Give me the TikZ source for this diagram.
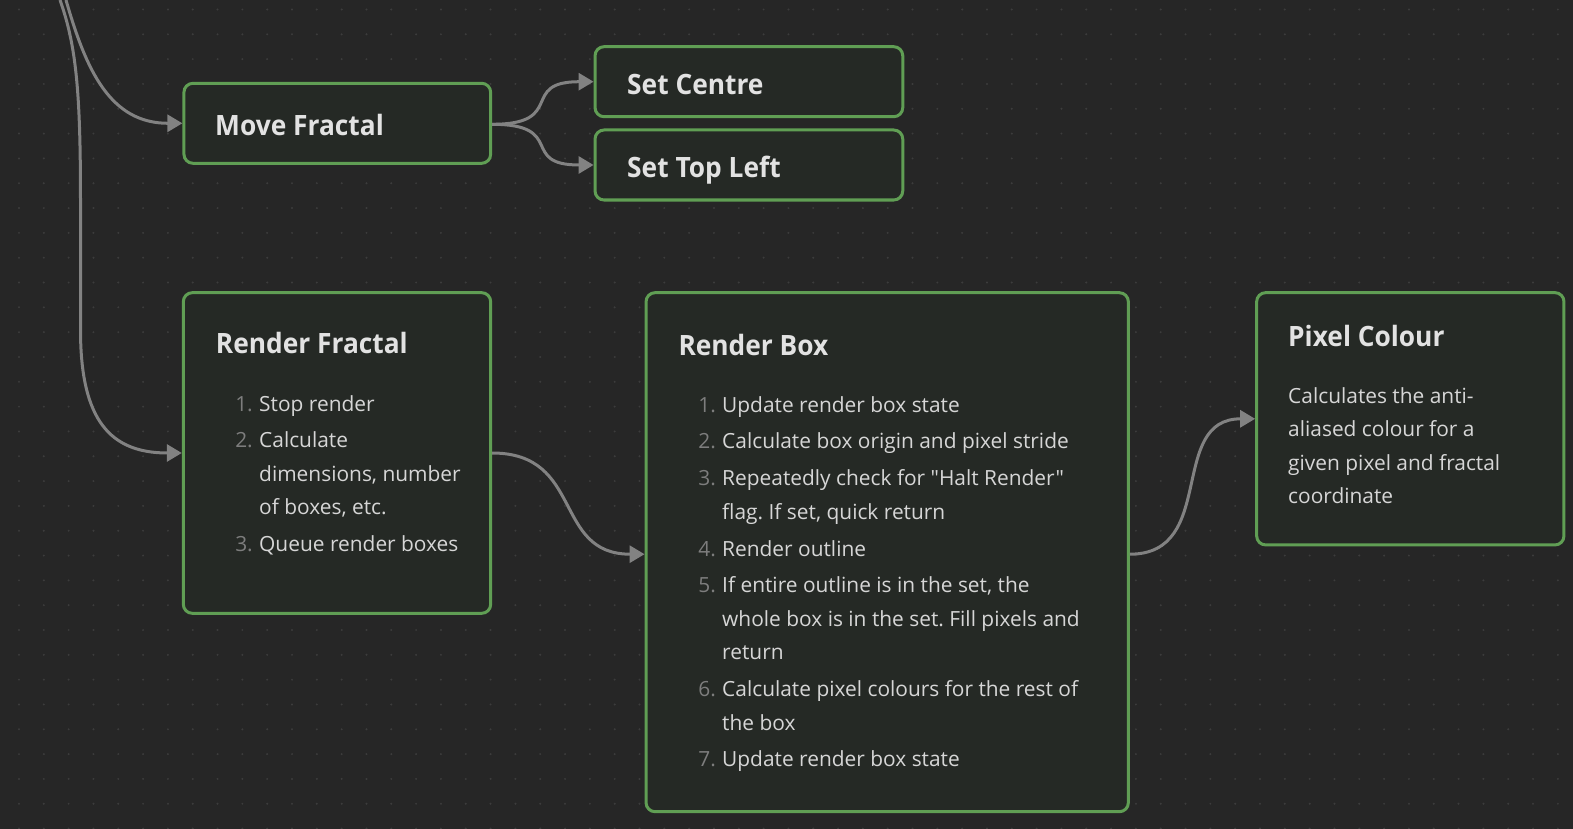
\documentclass[tikz,border=0pt]{standalone}
\usepackage{fontspec}
\setmainfont{Open Sans}
\newfontfamily\titlefont[FakeStretch=0.94]{Open Sans}
\newfontfamily\bodyfont{Open Sans}
\usetikzlibrary{arrows.meta}
\definecolor{bgcol}{RGB}{38,38,38}
\definecolor{dotcol}{RGB}{60,60,60}
\definecolor{cardfill}{RGB}{37,41,37}
\definecolor{cardborder}{RGB}{96,158,84}
\definecolor{conncol}{RGB}{130,130,130}
\definecolor{titlecol}{RGB}{226,226,226}
\definecolor{bodycol}{RGB}{214,214,214}
\definecolor{numcol}{RGB}{125,125,125}
\frenchspacing
\begin{document}
\begin{tikzpicture}[x=1pt,y=-1pt,
  card/.style={draw=cardborder, fill=cardfill, line width=3pt, rounded corners=9pt, inner sep=0pt, outer sep=1.5pt},
  ttl/.style={anchor=base west, inner sep=0pt, text=titlecol, font=\titlefont\fontsize{28}{34}\selectfont\bfseries},
  bodytxt/.style={anchor=base west, inner sep=0pt, text=bodycol, font=\bodyfont\fontsize{20.9}{33.5}\selectfont},
  numtxt/.style={anchor=base east, inner sep=0pt, text=numcol, font=\bodyfont\fontsize{20.9}{33.5}\selectfont},
  conn/.style={draw=conncol, line width=3pt, -{Triangle[length=15pt,width=17pt]}}]
\fill[bgcol] (0,0) rectangle (1573,829);
\useasboundingbox (0,0) rectangle (1573,829);
\foreach \i in {0,...,63} {
  \foreach \j in {0,...,33} {
    \fill[dotcol] (19+\i*24.82, 9.5+\j*24.82) circle (1.1);
  }
}
% cards
\node[card, minimum width=306.7pt, minimum height=80pt] (mf) at (337.3,123.3) {};
\node[card, minimum width=307.7pt, minimum height=70pt] (sc) at (748.9,81.7) {};
\node[card, minimum width=307.7pt, minimum height=70pt] (stl) at (748.9,165) {};
\node[card, minimum width=307.4pt, minimum height=320.6pt] (rf) at (337,453) {};
\node[card, minimum width=482.3pt, minimum height=519pt] (rb) at (887.2,552.2) {};
\node[card, minimum width=307.3pt, minimum height=252.3pt] (pc) at (1410.3,418.8) {};
% connectors
\coordinate (topa) at (60,0);
\coordinate (topb) at (66,0);
\draw[conn] (topb) .. controls (86,70) and (110,123.3) .. (mf.west);
\draw[conn] (topa) .. controls (76,45) and (80.5,90) .. (80.5,200) -- (80.5,330) .. controls (80.5,420) and (110,453) .. (rf.west);
\draw[conn] ([yshift=-1pt]mf.east) .. controls +(75,0) and +(-75,0) .. (sc.west);
\draw[conn] ([yshift=-1pt]mf.east) .. controls +(75,0) and +(-75,0) .. (stl.west);
\draw[conn] (rf.east) .. controls +(92,0) and +(-92,0) .. ([yshift=-2pt]rb.west);
\draw[conn] ([yshift=-2pt]rb.east) .. controls +(88,0) and +(-88,0) .. (pc.west);
% texts
\node[ttl] (mft) at (215,136) {Move Fractal};
\node[ttl] (sct) at (627,95) {Set Centre};
\node[ttl] (stlt) at (627,177.7) {Set Top Left};
\node[ttl] (rft) at (215.7,353.3) {Render Fractal};
\node[numtxt] (rfn1) at (253,411) {1.};
\node[bodytxt] (rfa) at (259,411) {Stop render};
\node[numtxt] (rfn2) at (253,447.7) {2.};
\node[bodytxt] (rfb) at (259,447.7) {Calculate};
\node[bodytxt] (rfc) at (259,481) {dimensions, number};
\node[bodytxt] (rfd) at (259,514.3) {of boxes, etc.};
\node[numtxt] (rfn3) at (253,551) {3.};
\node[bodytxt] (rfe) at (259,551) {Queue render boxes};
\node[ttl] (rbt) at (678.3,355) {Render Box};
\node[numtxt] (rbn1) at (716,412) {1.};
\node[bodytxt] (rba) at (722,412) {Update render box state};
\node[numtxt] (rbn2) at (716,448.6) {2.};
\node[bodytxt] (rbb) at (722,448.6) {Calculate box origin and pixel stride};
\node[numtxt] (rbn3) at (716,485.6) {3.};
\node[bodytxt] (rbc) at (722,485.6) {Repeatedly check for "Halt Render"};
\node[bodytxt] (rbd) at (722,519) {flag. If set, quick return};
\node[numtxt] (rbn4) at (716,556) {4.};
\node[bodytxt] (rbe) at (722,556) {Render outline};
\node[numtxt] (rbn5) at (716,592.8) {5.};
\node[bodytxt] (rbf) at (722,592.8) {If entire outline is in the set, the};
\node[bodytxt] (rbg) at (722,626.3) {whole box is in the set. Fill pixels and};
\node[bodytxt] (rbh) at (722,659.8) {return};
\node[numtxt] (rbn6) at (716,696.5) {6.};
\node[bodytxt] (rbi) at (722,696.5) {Calculate pixel colours for the rest of};
\node[bodytxt] (rbj) at (722,730) {the box};
\node[numtxt] (rbn7) at (716,766.7) {7.};
\node[bodytxt] (rbk) at (722,766.7) {Update render box state};
\node[ttl] (pct) at (1288,346.7) {Pixel Colour};
\node[bodytxt] (pca) at (1288,403.3) {Calculates the anti-};
\node[bodytxt] (pcb) at (1288,436.7) {aliased colour for a};
\node[bodytxt] (pcc) at (1288,470) {given pixel and fractal};
\node[bodytxt] (pcd) at (1288,503) {coordinate};
\end{tikzpicture}
\end{document}
